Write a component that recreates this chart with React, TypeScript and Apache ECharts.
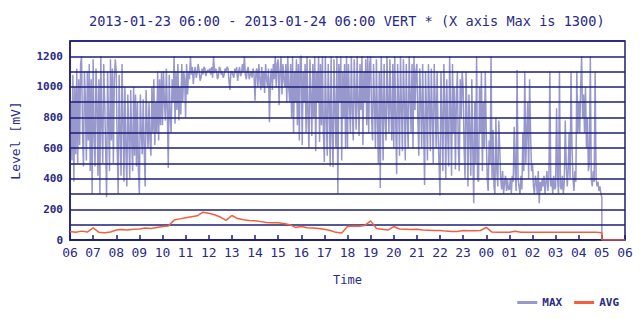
import React, { useEffect, useRef } from "react";
import * as echarts from "echarts";

const TITLE = "2013-01-23 06:00 - 2013-01-24 06:00 VERT * (X axis Max is 1300)";
const xLabels = ["06","07","08","09","10","11","12","13","14","15","16","17","18","19","20","21","22","23","00","01","02","03","04","05","06"];
const yLabels = [0, 200, 400, 600, 800, 1000, 1200];
const Y_MAX = 1300;
const MAX_PER_HOUR = 24;
const AVG_PER_HOUR = 4;
const END_HOUR = 23;

// MAX [mV], sampled every 2.5 minutes from 06:00, one row per hour
const maxValues = [
  600, 900, 520, 1080, 380, 1000, 560, 1120, 500, 1050, 620, 1150, 1200, 700, 480, 1100, 900, 520, 1100, 650, 1150, 450, 1050, 300,
  1180, 700, 480, 1120, 900, 420, 1050, 300, 1200, 750, 500, 1150, 900, 600, 280, 1100, 800, 450, 1180, 650, 1120, 500, 1050, 1180,
  1100, 600, 300, 1080, 700, 420, 1150, 800, 380, 1000, 600, 350, 950, 700, 400, 980, 650, 450, 1000, 550, 950, 480, 900, 450,
  300, 950, 700, 560, 920, 600, 350, 980, 750, 600, 900, 650, 550, 1000, 700, 1050, 620, 900, 700, 1100, 650, 1050, 750, 1100,
  750, 1100, 900, 780, 1120, 850, 470, 1080, 800, 700, 1050, 900, 1200, 760, 1100, 850, 1150, 780, 1000, 820, 1150, 900, 1100, 1050,
  800, 1150, 950, 1100, 1050, 1200, 1080, 1130, 1020, 1100, 1130, 1060, 1090, 1150, 1110, 1040, 1060, 1120, 1080, 1130, 1120, 1070, 1100, 1110,
  1100, 1120, 1080, 1130, 1060, 1200, 1090, 1120, 1110, 1050, 1070, 1130, 1120, 1080, 1100, 1060, 1080, 1120, 1100, 1130, 1120, 1040, 980, 1100,
  1100, 1080, 1060, 1120, 1090, 1130, 1040, 1100, 1130, 1070, 1090, 1150, 1100, 1200, 1080, 1050, 1110, 1130, 1050, 1080, 1100, 1060, 1120, 1080,
  910, 1100, 1120, 1000, 1150, 1050, 980, 1130, 1000, 1100, 960, 1150, 1050, 1000, 1120, 770, 1050, 1120, 980, 1150, 1050, 1200, 1000, 1150,
  1180, 880, 1100, 1200, 950, 1150, 1050, 1000, 1150, 900, 1200, 1000, 900, 1150, 800, 1200, 700, 1100, 900, 1180, 750, 1150, 650, 1200,
  1200, 620, 1100, 900, 1150, 700, 1200, 800, 600, 1180, 950, 680, 1150, 800, 1200, 580, 1100, 900, 1200, 640, 1150, 750, 1200, 700,
  510, 1200, 800, 550, 1150, 900, 480, 1200, 700, 475, 1180, 850, 600, 1200, 300, 1150, 900, 1200, 520, 1100, 800, 1150, 600, 1200,
  600, 1150, 900, 700, 1200, 850, 650, 1180, 950, 720, 1200, 900, 680, 1150, 850, 1200, 620, 1100, 900, 1180, 750, 1200, 700, 1150,
  1200, 800, 650, 1150, 900, 600, 1180, 800, 500, 1100, 340, 1200, 900, 520, 1150, 800, 650, 1200, 900, 700, 1180, 850, 650, 1150,
  600, 1200, 800, 430, 1150, 900, 550, 1200, 850, 580, 1180, 900, 520, 1150, 800, 600, 1200, 950, 700, 1150, 600, 1200, 850, 1100,
  1150, 800, 550, 1120, 900, 600, 1150, 750, 360, 1100, 850, 520, 1150, 900, 580, 1120, 800, 500, 1150, 900, 600, 1100, 700, 500,
  290, 1100, 800, 450, 1150, 900, 400, 1050, 700, 480, 1200, 850, 420, 1150, 700, 1000, 460, 900, 1100, 600, 450, 1050, 800, 1100,
  1000, 600, 400, 1100, 800, 350, 950, 700, 420, 1050, 600, 240, 900, 500, 1200, 400, 380, 1000, 700, 1100, 450, 900, 600, 1100,
  700, 400, 320, 650, 500, 1200, 400, 720, 350, 300, 800, 450, 350, 780, 600, 400, 330, 450, 300, 380, 420, 320, 400, 330,
  330, 400, 300, 420, 380, 740, 450, 320, 1110, 400, 350, 300, 420, 330, 700, 450, 1100, 500, 700, 900, 400, 1050, 700, 450,
  500, 350, 300, 420, 380, 300, 450, 240, 380, 320, 400, 350, 420, 300, 380, 450, 320, 400, 1100, 350, 400, 300, 420, 330,
  350, 860, 400, 300, 1100, 350, 330, 420, 300, 380, 780, 500, 350, 450, 700, 400, 1100, 600, 400, 320, 450, 380, 1100, 700,
  900, 700, 1000, 1200, 800, 950, 700, 1000, 600, 800, 450, 500, 1200, 400, 350, 450, 380, 1100, 400, 350, 380, 320, 350, 300,
  280,
];

// AVG [mV], sampled every 15 minutes from 06:00, one row per hour
const avgValues = [
  55, 50, 58, 52,
  80, 50, 48, 52,
  65, 68, 66, 70,
  72, 78, 75, 82,
  88, 92, 130, 138,
  145, 152, 158, 182,
  175, 165, 150, 128,
  160, 140, 132, 128,
  125, 120, 115, 112,
  112, 108, 100, 82,
  88, 80, 78, 75,
  70, 62, 50, 45,
  88, 92, 90, 95,
  125, 75, 70, 65,
  88, 72, 70, 68,
  70, 66, 64, 62,
  62, 58, 56, 55,
  62, 60, 60, 62,
  82, 52, 50, 50,
  50, 57, 50, 50,
  50, 50, 50, 50,
  50, 50, 50, 50,
  50, 50, 50, 50,
  48,
];

const NAVY = "#1e1e78";
const TEXT = "#2a2a88";
const MAX_COLOR = "#9898cc";
const AVG_COLOR = "#f0603c";
const MONO = "'DejaVu Sans Mono', monospace";

export default function App() {
  const ref = useRef<HTMLDivElement>(null);
  useEffect(() => {
    if (!ref.current) return;
    const chart = echarts.init(ref.current, undefined, { renderer: "svg" });
    const maxData: number[][] = maxValues.map((v, i) => [i / MAX_PER_HOUR, v]);
    maxData.push([END_HOUR, 0]);
    const avgData: number[][] = avgValues.map((v, i) => [i / AVG_PER_HOUR, v]);
    avgData.push([END_HOUR, 0]);
    avgData.push([xLabels.length - 1, 0]);
    chart.setOption({
      animation: false,
      backgroundColor: "#ffffff",
      title: {
        text: TITLE,
        left: 84,
        top: 9,
        textStyle: { fontFamily: MONO, fontSize: 13.6, fontWeight: "normal", color: TEXT },
      },
      grid: {
        left: 70,
        right: 15,
        top: 41,
        bottom: 80,
        show: true,
        borderColor: NAVY,
        borderWidth: 1.5,
      },
      legend: {
        right: 16,
        top: 292,
        icon: "rect",
        itemWidth: 20,
        itemHeight: 3,
        itemGap: 12,
        textStyle: { fontFamily: MONO, fontSize: 11, fontWeight: "bold", color: TEXT },
        data: ["MAX", "AVG"],
      },
      xAxis: {
        type: "value",
        z: 3,
        min: 0,
        max: xLabels.length - 1,
        interval: 1,
        name: "Time",
        nameLocation: "middle",
        nameGap: 34,
        nameTextStyle: { fontFamily: MONO, fontSize: 12, color: TEXT },
        axisLine: { show: true, lineStyle: { color: NAVY, width: 1.5 } },
        axisTick: { show: true, inside: true, length: 5, lineStyle: { color: NAVY, width: 1.5 } },
        splitLine: { show: false },
        axisLabel: {
          margin: 6,
          fontFamily: MONO,
          fontSize: 13,
          color: TEXT,
          formatter: (v: number) => xLabels[Math.round(v)] ?? "",
        },
      },
      yAxis: {
        type: "value",
        z: 3,
        min: 0,
        max: Y_MAX,
        interval: 100,
        name: "Level [mV]",
        nameLocation: "middle",
        nameGap: 48,
        nameTextStyle: { fontFamily: MONO, fontSize: 13, color: TEXT },
        axisLine: { show: true, lineStyle: { color: NAVY, width: 1.5 } },
        axisTick: { show: false },
        splitLine: { show: true, lineStyle: { color: NAVY, width: 1.5 } },
        axisLabel: {
          margin: 7,
          fontFamily: MONO,
          fontSize: 11,
          fontWeight: "bold",
          color: TEXT,
          formatter: (v: number) => (yLabels.includes(v) ? String(v) : ""),
        },
      },
      series: [
        {
          name: "MAX",
          type: "line",
          z: 2,
          data: maxData,
          showSymbol: false,
          color: MAX_COLOR,
          lineStyle: { color: MAX_COLOR, width: 1.5 },
        },
        {
          name: "AVG",
          type: "line",
          z: 4,
          data: avgData,
          showSymbol: false,
          color: AVG_COLOR,
          lineStyle: { color: AVG_COLOR, width: 1.5 },
        },
      ],
    });
    return () => chart.dispose();
  }, []);
  return (
    <div
      ref={ref}
      style={{ position: "absolute", left: 0, top: 0, width: 640, height: 320 }}
    />
  );
}
